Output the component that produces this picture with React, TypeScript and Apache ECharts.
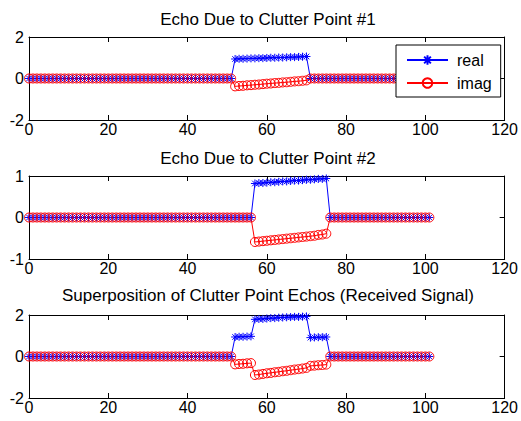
import React, { useEffect, useRef } from "react";
import * as echarts from "echarts";

// ---- data ----
const sampleCount = 102; // samples 0..101
const titles = [
  "Echo Due to Clutter Point #1",
  "Echo Due to Clutter Point #2",
  "Superposition of Clutter Point Echos (Received Signal)",
];
const seriesNames = ["real", "imag"];
const xTicks = { min: 0, max: 120, interval: 20 };
const yRanges = [
  { min: -2, max: 2, interval: 2 },
  { min: -1, max: 1, interval: 1 },
  { min: -2, max: 2, interval: 2 },
];

const echo1Start = 52;
const echo1Real = [0.94, 0.95, 0.95, 0.96, 0.97, 0.97, 0.98, 0.98, 0.99, 1.0, 1.0, 1.01, 1.01, 1.02, 1.03, 1.03, 1.04, 1.05, 1.06];
const echo1Imag = [-0.38, -0.36, -0.35, -0.33, -0.32, -0.3, -0.29, -0.27, -0.25, -0.24, -0.22, -0.21, -0.19, -0.18, -0.16, -0.14, -0.13, -0.11, -0.09];

const echo2Start = 57;
const echo2Real = [0.82, 0.83, 0.83, 0.84, 0.85, 0.85, 0.86, 0.87, 0.87, 0.88, 0.89, 0.89, 0.9, 0.91, 0.91, 0.92, 0.93, 0.93, 0.94];
const echo2Imag = [-0.59, -0.58, -0.57, -0.56, -0.55, -0.54, -0.53, -0.52, -0.51, -0.5, -0.49, -0.48, -0.47, -0.46, -0.45, -0.44, -0.42, -0.41, -0.39];

const sumStart = 52;
const sumReal = [0.94, 0.95, 0.95, 0.96, 0.97, 1.79, 1.81, 1.81, 1.83, 1.85, 1.85, 1.87, 1.88, 1.89, 1.9, 1.91, 1.91, 1.92, 1.93, 0.91, 0.92, 0.93, 0.93, 0.94];
const sumImag = [-0.38, -0.36, -0.35, -0.33, -0.32, -0.89, -0.87, -0.84, -0.81, -0.79, -0.76, -0.74, -0.71, -0.69, -0.66, -0.63, -0.61, -0.58, -0.55, -0.45, -0.44, -0.42, -0.41, -0.39];

const FONT = "'Liberation Sans', Arial, sans-serif";
const STAR = "path://M5,0 L5,10 M0,5 L10,5 M1.5,1.5 L8.5,8.5 M8.5,1.5 L1.5,8.5";

function expand(start: number, vals: number[]) {
  const out: [number, number][] = [];
  for (let i = 0; i < sampleCount; i++) {
    const k = i - start;
    out.push([i, k >= 0 && k < vals.length ? vals[k] : 0]);
  }
  return out;
}

const panels = [
  { real: expand(echo1Start, echo1Real), imag: expand(echo1Start, echo1Imag) },
  { real: expand(echo2Start, echo2Real), imag: expand(echo2Start, echo2Imag) },
  { real: expand(sumStart, sumReal), imag: expand(sumStart, sumImag) },
];

export default function App() {
  const ref = useRef<HTMLDivElement>(null);
  useEffect(() => {
    if (!ref.current) return;
    const chart = echarts.init(ref.current, null, { renderer: "svg" });
    const gridTops = [37, 176, 315];
    const titleTops = [11, 150, 287];
    const grid = gridTops.map((t) => ({ left: 29, right: 14, top: t, height: 83 }));
    const xAxis: any[] = [];
    const yAxis: any[] = [];
    const series: any[] = [];
    const axisLine = { show: true, onZero: false, lineStyle: { color: "#000", width: 1 } };
    const tick = { show: true, inside: true, length: 5, lineStyle: { color: "#000" } };
    gridTops.forEach((_, g) => {
      xAxis.push({
        type: "value", gridIndex: g, position: "bottom", ...xTicks,
        axisLine, axisTick: tick, splitLine: { show: false },
        axisLabel: { color: "#000", fontSize: 16, fontFamily: FONT, margin: 1 },
      });
      xAxis.push({
        type: "value", gridIndex: g, position: "top", ...xTicks,
        axisLine, axisTick: tick, splitLine: { show: false }, axisLabel: { show: false },
      });
      yAxis.push({
        type: "value", gridIndex: g, position: "left", ...yRanges[g],
        axisLine, axisTick: tick, splitLine: { show: false },
        axisLabel: { color: "#000", fontSize: 16, fontFamily: FONT, margin: 5 },
      });
      yAxis.push({
        type: "value", gridIndex: g, position: "right", ...yRanges[g],
        axisLine, axisTick: tick, splitLine: { show: false }, axisLabel: { show: false },
      });
      series.push({
        name: seriesNames[0], type: "line", xAxisIndex: 2 * g, yAxisIndex: 2 * g,
        data: panels[g].real, symbol: STAR, symbolSize: 8, showAllSymbol: true,
        lineStyle: { color: "#0000ff", width: 1 },
        itemStyle: { color: "#0000ff", borderColor: "#0000ff", borderWidth: 1 },
        emphasis: { disabled: true },
      });
      series.push({
        name: seriesNames[1], type: "line", xAxisIndex: 2 * g, yAxisIndex: 2 * g,
        data: panels[g].imag, symbol: "circle", symbolSize: 9, showAllSymbol: true,
        lineStyle: { color: "#ff0000", width: 1 },
        itemStyle: { color: "rgba(0,0,0,0)", borderColor: "#ff0000", borderWidth: 1 },
        emphasis: { disabled: true },
      });
    });
    chart.setOption({
      animation: false,
      backgroundColor: "#fff",
      title: titles.map((t, i) => ({
        text: t, left: 268, top: titleTops[i], textAlign: "center", padding: 0,
        textStyle: { color: "#000", fontSize: 17, fontWeight: "normal", fontFamily: FONT },
      })),
      legend: {
        data: seriesNames, orient: "vertical", left: 396, top: 45,
        backgroundColor: "#fff", borderColor: "#000", borderWidth: 1,
        padding: [7, 9, 6, 10], itemWidth: 41, itemHeight: 12, itemGap: 7,
        selectedMode: false,
        textStyle: { color: "#000", fontSize: 16, fontFamily: FONT, lineHeight: 16, padding: [0, 0, 0, 4] },
      },
      grid, xAxis, yAxis, series,
    });
    return () => chart.dispose();
  }, []);
  return <div ref={ref} style={{ position: "absolute", left: 0, top: 0, width: 521, height: 421 }} />;
}
